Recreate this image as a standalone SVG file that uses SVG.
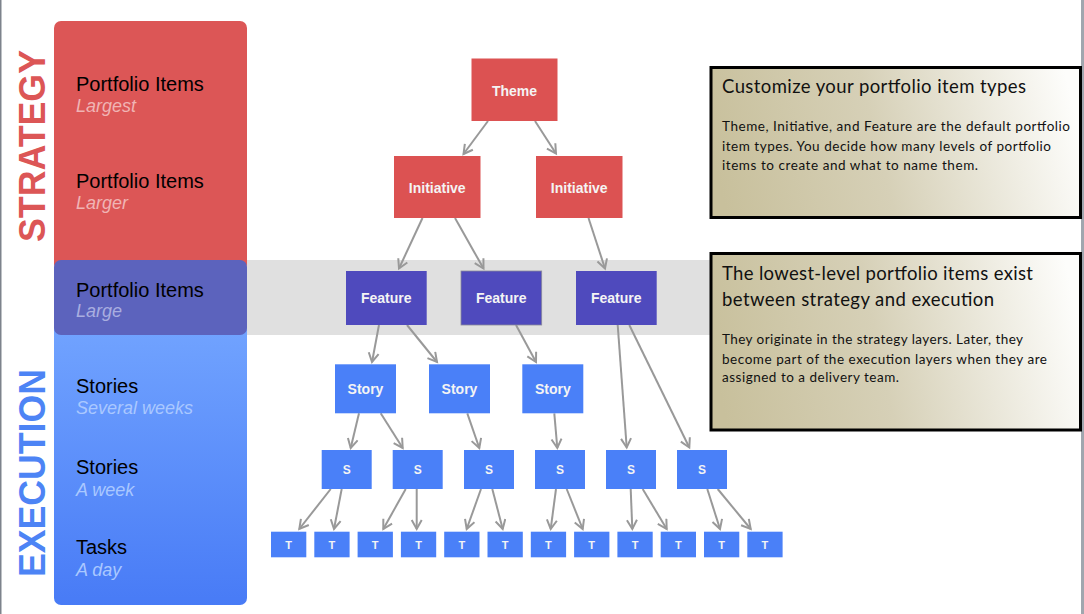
<svg xmlns="http://www.w3.org/2000/svg" width="1084" height="614" viewBox="0 0 1084 614">
<defs>
<linearGradient id="blueGrad" x1="0" y1="0" x2="0" y2="1">
<stop offset="0" stop-color="#72a4ff"/>
<stop offset="1" stop-color="#487bf6"/>
</linearGradient>
<linearGradient id="noteGrad" x1="0" y1="0.55" x2="1" y2="0.45">
<stop offset="0" stop-color="#c8c09c"/>
<stop offset="0.45" stop-color="#d6d0b7"/>
<stop offset="1" stop-color="#fdfdfb"/>
</linearGradient>
<marker id="arr" markerUnits="userSpaceOnUse" markerWidth="14" markerHeight="14" refX="10" refY="6" orient="auto">
<path d="M1,1 L10,6 L1,11" fill="none" stroke="#999999" stroke-width="2"/>
</marker>
<style>
.lbl{font-family:"Liberation Sans",Arial,sans-serif;font-size:20px;fill:#000000}
.sub{font-family:"Liberation Sans",Arial,sans-serif;font-size:18px;font-style:italic}
.side{font-family:"Liberation Sans",Arial,sans-serif;font-size:36px;font-weight:bold}
.node text{font-family:"Liberation Sans",Arial,sans-serif;font-weight:bold;fill:#f4f4f4;text-anchor:middle}
.red{fill:#dc5252}
.pur{fill:#4f4abd}
.blu{fill:#4a80f8}
.t14{font-size:14px}
.t11{font-size:12px}
.t10{font-size:11px}
.note rect{fill:url(#noteGrad);stroke:#000000;stroke-width:3}
.ttl{font-family:Lato,"Open Sans",sans-serif;font-size:18.5px;fill:#111111}
.body{font-family:Lato,"Open Sans",sans-serif;font-size:13.5px;fill:#111111}
#connectors line{stroke:#999999;stroke-width:2;marker-end:url(#arr)}
</style>
</defs>
<rect x="0" y="0" width="1084" height="614" fill="#ffffff"/>
<rect x="0" y="0" width="1.5" height="614" fill="#7d838c"/>
<rect x="1081" y="0" width="3" height="614" fill="#a0a6ae"/>

<!-- gray band -->
<rect x="246" y="260" width="466" height="75" fill="#e0e0e0"/>

<!-- left panels -->
<g id="panel-strategy">
<rect x="54" y="21" width="193" height="250" rx="7" fill="#dc5656"/>
</g>
<g id="panel-execution">
<rect x="54" y="320" width="193" height="285" rx="7" fill="url(#blueGrad)"/>
</g>
<g id="panel-large">
<rect x="54" y="260" width="193" height="75" rx="7" fill="#5c63bd"/>
</g>

<g id="side-labels">
<text class="side" fill="#dc5656" transform="translate(45,242) rotate(-90)" textLength="192" lengthAdjust="spacingAndGlyphs">STRATEGY</text>
<text class="side" fill="#4d84f5" transform="translate(45,577) rotate(-90)" textLength="208" lengthAdjust="spacingAndGlyphs">EXECUTION</text>
</g>

<g id="level-labels">
<text class="lbl" x="76" y="91">Portfolio Items</text>
<text class="sub" x="76" y="112" fill="#f0b4b4">Largest</text>
<text class="lbl" x="76" y="188">Portfolio Items</text>
<text class="sub" x="76" y="209" fill="#f0b4b4">Larger</text>
<text class="lbl" x="76" y="297">Portfolio Items</text>
<text class="sub" x="76" y="317" fill="#a9aee0">Large</text>
<text class="lbl" x="76" y="393">Stories</text>
<text class="sub" x="76" y="414" fill="#aac8ff">Several weeks</text>
<text class="lbl" x="76" y="474">Stories</text>
<text class="sub" x="76" y="496" fill="#aac8ff">A week</text>
<text class="lbl" x="76" y="554">Tasks</text>
<text class="sub" x="76" y="576" fill="#aac8ff">A day</text>
</g>

<!-- connectors -->
<g id="connectors">
<line x1="488" y1="121" x2="463.5" y2="154"/>
<line x1="535" y1="121" x2="556" y2="153.5"/>
<line x1="422.5" y1="218" x2="399" y2="268.5"/>
<line x1="455" y1="218" x2="483.5" y2="268.5"/>
<line x1="588.5" y1="218" x2="605" y2="268.5"/>
<line x1="379" y1="325" x2="372" y2="362"/>
<line x1="407" y1="325" x2="437" y2="362"/>
<line x1="516" y1="325" x2="536" y2="362"/>
<line x1="617.7" y1="325" x2="626.7" y2="447.5"/>
<line x1="629.3" y1="325" x2="689.3" y2="447.5"/>
<line x1="359" y1="413.3" x2="350.7" y2="448"/>
<line x1="380.7" y1="413.3" x2="402.7" y2="448"/>
<line x1="467.3" y1="413.3" x2="479.3" y2="448"/>
<line x1="554.3" y1="413.3" x2="557.3" y2="448"/>
<line x1="330.7" y1="489" x2="299.3" y2="529"/>
<line x1="341.7" y1="489" x2="334" y2="529"/>
<line x1="405.7" y1="489" x2="383.3" y2="529"/>
<line x1="416.7" y1="489" x2="416.7" y2="529"/>
<line x1="481" y1="489" x2="466.7" y2="529"/>
<line x1="492.3" y1="489" x2="502.7" y2="529"/>
<line x1="556" y1="489" x2="550.7" y2="529"/>
<line x1="566.7" y1="489" x2="582.7" y2="529"/>
<line x1="630.7" y1="489" x2="632.3" y2="529"/>
<line x1="642.7" y1="489" x2="666.7" y2="529"/>
<line x1="707.3" y1="489" x2="720" y2="529"/>
<line x1="717.7" y1="489" x2="750.7" y2="529"/>
</g>

<!-- nodes -->
<g id="theme" class="node"><rect class="red" x="471.5" y="58.5" width="86" height="62.5"/><text class="t14" x="514.5" y="96">Theme</text></g>
<g id="initiative-1" class="node"><rect class="red" x="394" y="156" width="86.5" height="62"/><text class="t14" x="437.2" y="193">Initiative</text></g>
<g id="initiative-2" class="node"><rect class="red" x="536" y="156" width="86.5" height="62"/><text class="t14" x="579.2" y="193">Initiative</text></g>
<g id="feature-1" class="node"><rect class="pur" x="346" y="271" width="80.7" height="54"/><text class="t14" x="386.3" y="303">Feature</text></g>
<g id="feature-2" class="node"><rect class="pur" x="461" y="271" width="80.7" height="54" stroke="#8a8a9a" stroke-width="0.8"/><text class="t14" x="501.3" y="303">Feature</text></g>
<g id="feature-3" class="node"><rect class="pur" x="576" y="271" width="80.7" height="54"/><text class="t14" x="616.3" y="303">Feature</text></g>
<g id="story-1" class="node"><rect class="blu" x="335" y="364.3" width="61" height="49"/><text class="t14" x="365.5" y="394">Story</text></g>
<g id="story-2" class="node"><rect class="blu" x="429" y="364.3" width="61" height="49"/><text class="t14" x="459.5" y="394">Story</text></g>
<g id="story-3" class="node"><rect class="blu" x="522.3" y="364.3" width="61" height="49"/><text class="t14" x="552.8" y="394">Story</text></g>
<g id="s-1" class="node"><rect class="blu" x="321.7" y="450" width="50" height="39"/><text class="t11" x="346.7" y="474">S</text></g>
<g id="s-2" class="node"><rect class="blu" x="392.7" y="450" width="50" height="39"/><text class="t11" x="417.7" y="474">S</text></g>
<g id="s-3" class="node"><rect class="blu" x="464" y="450" width="50" height="39"/><text class="t11" x="489" y="474">S</text></g>
<g id="s-4" class="node"><rect class="blu" x="535" y="450" width="50" height="39"/><text class="t11" x="560" y="474">S</text></g>
<g id="s-5" class="node"><rect class="blu" x="606" y="450" width="50" height="39"/><text class="t11" x="631" y="474">S</text></g>
<g id="s-6" class="node"><rect class="blu" x="677" y="450" width="50" height="39"/><text class="t11" x="702" y="474">S</text></g>
<g id="t-1" class="node"><rect class="blu" x="271" y="531.7" width="35.3" height="25.6"/><text class="t10" x="288.6" y="548.5">T</text></g>
<g id="t-2" class="node"><rect class="blu" x="314.3" y="531.7" width="35.3" height="25.6"/><text class="t10" x="331.9" y="548.5">T</text></g>
<g id="t-3" class="node"><rect class="blu" x="357.6" y="531.7" width="35.3" height="25.6"/><text class="t10" x="375.2" y="548.5">T</text></g>
<g id="t-4" class="node"><rect class="blu" x="400.9" y="531.7" width="35.3" height="25.6"/><text class="t10" x="418.5" y="548.5">T</text></g>
<g id="t-5" class="node"><rect class="blu" x="444.2" y="531.7" width="35.3" height="25.6"/><text class="t10" x="461.8" y="548.5">T</text></g>
<g id="t-6" class="node"><rect class="blu" x="487.5" y="531.7" width="35.3" height="25.6"/><text class="t10" x="505.1" y="548.5">T</text></g>
<g id="t-7" class="node"><rect class="blu" x="530.8" y="531.7" width="35.3" height="25.6"/><text class="t10" x="548.4" y="548.5">T</text></g>
<g id="t-8" class="node"><rect class="blu" x="574.1" y="531.7" width="35.3" height="25.6"/><text class="t10" x="591.7" y="548.5">T</text></g>
<g id="t-9" class="node"><rect class="blu" x="617.4" y="531.7" width="35.3" height="25.6"/><text class="t10" x="635" y="548.5">T</text></g>
<g id="t-10" class="node"><rect class="blu" x="660.7" y="531.7" width="35.3" height="25.6"/><text class="t10" x="678.3" y="548.5">T</text></g>
<g id="t-11" class="node"><rect class="blu" x="704" y="531.7" width="35.3" height="25.6"/><text class="t10" x="721.6" y="548.5">T</text></g>
<g id="t-12" class="node"><rect class="blu" x="747.3" y="531.7" width="35.3" height="25.6"/><text class="t10" x="764.9" y="548.5">T</text></g>

<!-- notes -->
<g id="note-1" class="note">
<rect x="711" y="67.5" width="369.5" height="150"/>
<text class="ttl" x="722" y="93" textLength="304">Customize your portfolio item types</text>
<text class="body" x="722" y="131" textLength="348">Theme, Initiative, and Feature are the default portfolio</text>
<text class="body" x="722" y="151" textLength="329">item types. You decide how many levels of portfolio</text>
<text class="body" x="722" y="170" textLength="256">items to create and what to name them.</text>
</g>
<g id="note-2" class="note">
<rect x="711" y="253.5" width="369.5" height="176.5"/>
<text class="ttl" x="722" y="280" textLength="311">The lowest-level portfolio items exist</text>
<text class="ttl" x="722" y="306" textLength="272">between strategy and execution</text>
<text class="body" x="722" y="344" textLength="301">They originate in the strategy layers. Later, they</text>
<text class="body" x="722" y="364" textLength="325">become part of the execution layers when they are</text>
<text class="body" x="722" y="382" textLength="177">assigned to a delivery team.</text>
</g>
</svg>
